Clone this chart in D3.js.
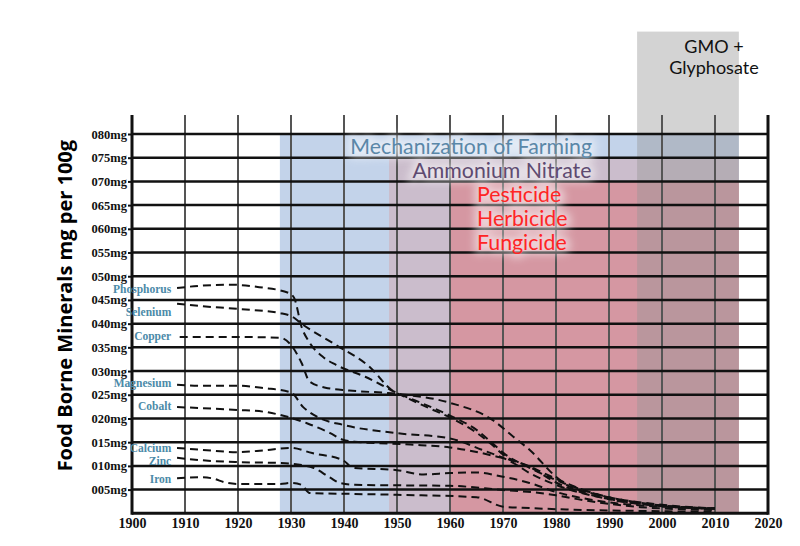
<!DOCTYPE html>
<html lang="en">
<head>
  <meta charset="UTF-8">
  <title>Food Borne Minerals</title>
  <script src="https://d3js.org/d3.v7.min.js"></script>
  <style>
    body { margin: 0; background: #fff; }
  </style>
</head>
<body>
<div id="minerals"></div>
<script>

// series labels and values: [year, mg per 100g]
var minerals = ["Phosphorus", "Selenium", "Copper", "Magnesium", "Cobalt", "Calcium", "Zinc", "Iron"];

var phosphorus = [[1908.5,47.5],[1913,48.0],[1919,48.2],[1924,47.7],[1929.5,46.5],[1930.6,45.4],[1932,39.3],[1933.5,36.0],[1936,33.0],[1938.5,31.3],[1944,28.8],[1950,25.4],[1956,22.6],[1960,20.6],[1965,17.6],[1968,14.8],[1970,12.8],[1975,9.6],[1980,7.0],[1990,3.4],[2000,1.8],[2010,1.0]];
var selenium   = [[1908.5,44.2],[1913,43.7],[1920,43.1],[1928,42.2],[1930.5,41.3],[1931.5,40.4],[1938.5,35.5],[1944.8,30.9],[1949,26.0],[1952,24.3],[1956,22.2],[1960,20.2],[1965,17.0],[1968,14.4],[1970,12.4],[1975,9.9],[1980,7.3],[1990,3.2],[2000,1.6],[2010,1.0]];
var copper     = [[1909,37.2],[1915,37.2],[1920,37.2],[1928,37.0],[1930,35.5],[1932,31.7],[1933.5,27.8],[1936.5,26.5],[1941,25.9],[1950,25.2],[1960,23.3],[1968,19.7],[1972,16.1],[1975,13.4],[1980,7.7],[1982,6.0],[1988,3.9],[1996,2.2],[2010,1.0]];
var magnesium  = [[1908.5,27.1],[1913,26.9],[1920,26.9],[1925,26.4],[1930,25.5],[1932.3,22.4],[1935,20.3],[1940,18.6],[1950,16.9],[1960,15.8],[1966,13.4],[1972,10.6],[1975,8.5],[1980,6.0],[1990,3.0],[2000,1.6],[2010,1.0]];
var cobalt     = [[1908.5,22.4],[1913,22.2],[1920,21.8],[1925,21.4],[1929.8,20.2],[1933,19.0],[1937.4,16.9],[1939.8,15.5],[1942,15.1],[1952.5,14.5],[1960,13.9],[1967.5,12.3],[1975,9.8],[1980,6.5],[1990,3.0],[2000,1.5],[2010,1.0]];
var calcium    = [[1908.5,13.8],[1913,13.4],[1920,12.9],[1925,13.3],[1930,13.8],[1934,12.7],[1939.8,11.2],[1941.7,9.6],[1950,9.1],[1955,8.2],[1960,8.5],[1965,8.6],[1970,7.7],[1975,6.4],[1980,4.5],[1990,2.3],[2000,1.4],[2010,1.0]];
var zinc       = [[1908.5,11.7],[1913,11.2],[1920,10.8],[1928,10.6],[1932,10.2],[1934.2,9.6],[1937.4,7.5],[1939.2,6.4],[1942,6.0],[1950,5.9],[1960,5.8],[1970,4.9],[1976,4.4],[1980,3.8],[1985,2.8],[1996,1.3],[2010,0.7]];
var iron       = [[1908.5,7.4],[1913,7.6],[1915,7.4],[1918,6.4],[1920,6.2],[1928,6.2],[1930,6.4],[1932,6.0],[1933.5,4.3],[1941,4.1],[1950,3.9],[1965,3.4],[1970,1.4],[1975,1.1],[1982,0.8],[1996,0.5],[2010,0.3]];

var seriesValues = [phosphorus, selenium, copper, magnesium, cobalt, calcium, zinc, iron];
var labelMg = [47.3, 42.4, 37.4, 27.5, 22.6, 13.7, 11.0, 7.2];

// eras shaded behind the lines
var eraNames  = ["Mechanization of Farming", "Ammonium Nitrate", "Pesticide", "GMO + Glyphosate"];
var eraStart  = [1927.9, 1948.5, 1960, 1995.3];
var eraEnd    = [2014.5, 2014.5, 2014.5, 2014.5];
var eraTopMg  = [80, 75, 70, 101.6];

// tick labels
var yearTicks = d3.range(1900, 2021, 10);
var mgTicks = d3.range(5, 81, 5);

var width = 800, height = 546;

var svg = d3.select("#minerals")
  .append("svg")
    .attr("width", width)
    .attr("height", height)
    .style("font-family", "Lato, 'Open Sans', sans-serif");

var x = d3.scaleLinear().domain([1900, 2020]).range([132, 768]);
var y = d3.scaleLinear().domain([0, 80]).range([513.3, 134]);

var defs = svg.append("defs");
defs.append("filter").attr("id", "blur")
    .attr("x", "-20%").attr("y", "-60%").attr("width", "140%").attr("height", "220%")
  .append("feGaussianBlur").attr("stdDeviation", 4);

// era rectangles (opaque ones first, grey GMO band on top, see-through)
var eraFill = ["#c3d3ea", "#cbbdcc", "#d597a2"];
svg.selectAll("rect.era")
  .data(eraFill)
  .enter()
  .append("rect")
    .attr("class", "era")
    .attr("x", function(d, i) { return x(eraStart[i]); })
    .attr("y", function(d, i) { return y(eraTopMg[i]); })
    .attr("width", function(d, i) { return x(eraEnd[i]) - x(eraStart[i]); })
    .attr("height", function(d, i) { return y(0) - y(eraTopMg[i]); })
    .attr("fill", function(d) { return d; });

svg.append("rect")
    .attr("x", x(eraStart[3]))
    .attr("y", y(eraTopMg[3]))
    .attr("width", x(eraEnd[3]) - x(eraStart[3]))
    .attr("height", y(0) - y(eraTopMg[3]))
    .attr("fill", "rgb(150,150,150)")
    .attr("fill-opacity", 0.42);

// vertical grid (decades)
svg.append("g")
  .selectAll("line")
  .data(yearTicks.slice(1, -1))
  .enter()
  .append("line")
    .attr("x1", function(d) { return x(d); })
    .attr("x2", function(d) { return x(d); })
    .attr("y1", y(84))
    .attr("y2", y(0))
    .attr("stroke", "#555")
    .attr("stroke-width", 2);

// horizontal grid
svg.append("g")
  .selectAll("line")
  .data(mgTicks)
  .enter()
  .append("line")
    .attr("x1", x(1900))
    .attr("x2", x(2020))
    .attr("y1", function(d) { return y(d); })
    .attr("y2", function(d) { return y(d); })
    .attr("stroke", "#111")
    .attr("stroke-width", 2.5);

// era titles
function glowText(g, tx, ty, str, color, size, anchor) {
  [0, 1].forEach(function(k) {
    var t = g.append("text")
      .attr("x", tx).attr("y", ty)
      .attr("text-anchor", anchor || "middle")
      .attr("dominant-baseline", "central")
      .style("font-size", size + "px")
      .text(str);
    if (k === 0) {
      t.attr("fill", "#fff").attr("stroke", "#fff").attr("stroke-width", 8)
       .attr("opacity", 0.55).attr("filter", "url(#blur)");
    } else {
      t.attr("fill", color);
    }
  });
}
var titles = svg.append("g");
glowText(titles, x(1964), y(77.5), eraNames[0], "#5a87a8", 21.3);
glowText(titles, x(1969.8), y(72.4), eraNames[1], "#5e4a70", 21.3);
["Pesticide", "Herbicide", "Fungicide"].forEach(function(s, i) {
  glowText(titles, x(1965.1), y(67.3 - i * 5), s, "#ff2424", 21.3, "start");
});
titles.append("text")
    .attr("x", x(2009.8)).attr("y", y(98.6))
    .attr("text-anchor", "middle").attr("dominant-baseline", "central")
    .style("font-size", "18px").attr("fill", "#111")
    .text("GMO +");
titles.append("text")
    .attr("x", x(2009.8)).attr("y", y(94.2))
    .attr("text-anchor", "middle").attr("dominant-baseline", "central")
    .style("font-size", "18px").attr("fill", "#111")
    .text("Glyphosate");

// axes
var yAxis = svg.append("g")
    .attr("transform", "translate(" + x(1900) + ",0)")
    .call(d3.axisLeft(y).tickValues(mgTicks).tickSize(4).tickPadding(1)
      .tickFormat(function(d) { return d3.format("03d")(d) + "mg"; }));
yAxis.select(".domain").remove();
yAxis.selectAll("line").attr("stroke", "#111").attr("stroke-width", 2);
yAxis.selectAll("text")
    .style("font-family", "'Liberation Serif', serif")
    .style("font-weight", "bold")
    .style("font-size", "12.5px")
    .attr("fill", "#111");

var xAxis = svg.append("g")
    .attr("transform", "translate(0," + y(0) + ")")
    .call(d3.axisBottom(x).tickValues(yearTicks).tickSize(0).tickPadding(5)
      .tickFormat(d3.format("d")));
xAxis.select(".domain").remove();
xAxis.selectAll("text")
    .style("font-family", "'Liberation Serif', serif")
    .style("font-weight", "bold")
    .style("font-size", "14px")
    .attr("fill", "#111");

// frame: left, right, bottom
svg.append("line")
    .attr("x1", x(1900)).attr("x2", x(1900))
    .attr("y1", y(84)).attr("y2", y(0) + 1.5)
    .attr("stroke", "#111").attr("stroke-width", 3);
svg.append("line")
    .attr("x1", x(2020)).attr("x2", x(2020))
    .attr("y1", y(84)).attr("y2", y(0) + 1.5)
    .attr("stroke", "#111").attr("stroke-width", 3);
svg.append("line")
    .attr("x1", x(1900)).attr("x2", x(2020))
    .attr("y1", y(0)).attr("y2", y(0))
    .attr("stroke", "#111").attr("stroke-width", 3);

svg.append("text")
    .attr("transform", "translate(64," + y(43.8) + ") rotate(-90)")
    .attr("text-anchor", "middle")
    .attr("dominant-baseline", "central")
    .style("font-family", "'Open Sans', sans-serif")
    .style("font-weight", "bold")
    .style("font-size", "20px")
    .attr("fill", "#000")
    .text("Food Borne Minerals mg per 100g");

// dashed mineral lines
var line = d3.line()
    .x(function(d) { return x(d[0]); })
    .y(function(d) { return y(d[1]); })
    .curve(d3.curveMonotoneX);

svg.append("g")
  .selectAll("path")
  .data(seriesValues)
  .enter()
  .append("path")
    .attr("d", line)
    .attr("fill", "none")
    .attr("stroke", "#111")
    .attr("stroke-width", 2)
    .attr("stroke-dasharray", "8,5");

// series labels
svg.append("g")
  .selectAll("text")
  .data(minerals)
  .enter()
  .append("text")
    .attr("x", x(1907.4))
    .attr("y", function(d, i) { return y(labelMg[i]); })
    .attr("text-anchor", "end")
    .attr("dominant-baseline", "central")
    .style("font-family", "'Liberation Serif', serif")
    .style("font-weight", "bold")
    .style("font-size", "11.5px")
    .attr("fill", "#4b8aa8")
    .text(function(d) { return d; });

</script>
</body>
</html>
